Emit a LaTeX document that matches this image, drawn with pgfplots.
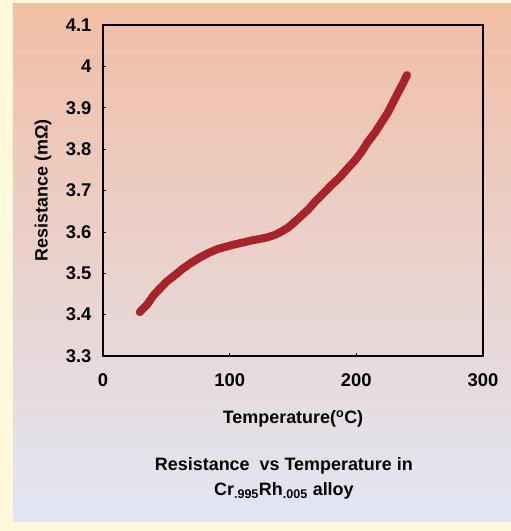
\documentclass[border=0pt]{standalone}
\usepackage{fontspec}
\setmainfont{Liberation Sans}
\usepackage{pgfplots}
\pgfplotsset{compat=1.18}

\definecolor{cream}{RGB}{255,248,220}
\definecolor{phototop}{RGB}{242,190,165}
\definecolor{photomid}{RGB}{238,200,204}
\definecolor{photobot}{RGB}{226,230,244}
\definecolor{curvered}{RGB}{168,36,42}

\newcommand\lab{\fontsize{18}{25}\selectfont\bfseries}
\newcommand\tlab{\fontsize{18.5}{20}\selectfont\bfseries}

\begin{document}
\begin{tikzpicture}
% photo background
\path[use as bounding box, fill=cream] (0,0) rectangle (511bp,531bp);
\shade[top color=phototop, middle color=photomid, bottom color=photobot]
  (13bp,9bp) rectangle (511bp,527bp);

\begin{axis}[
    at={(103bp,175bp)}, anchor=south west,
    scale only axis, width=380bp, height=331bp,
    xmin=0, xmax=300, ymin=3.3, ymax=4.1,
    xtick={0,100,200,300},
    ytick={3.3,3.4,3.5,3.6,3.7,3.8,3.9,4.0,4.1},
    xtick pos=bottom, ytick pos=left,
    tick align=inside,
    major tick length=3bp,
    tick style={black, line width=0.6bp},
    axis line style={black, line width=2.4bp},
    /pgf/number format/assume math mode=true,
    ticklabel style={font=\tlab},
    yticklabel style={xshift=-8bp},
    xticklabel style={yshift=-14bp},
    xlabel={Temperature(\textsuperscript{o}C)},
    ylabel={Resistance (mΩ)},
    xlabel style={font=\lab, at={(axis description cs:0.5,-0.19)}, anchor=center},
    ylabel style={font=\lab, at={(axis description cs:-0.158,0.5)}, anchor=center},
    title={Resistance\ \ vs Temperature in\\Cr\textsubscript{.995}Rh\textsubscript{.005} alloy},
    title style={font=\lab, align=center, at={(axis description cs:0.476,-0.388)}, anchor=center},
]
\addplot[color=curvered, line width=8bp, line cap=round, line join=round] coordinates {
(29,3.406) (35,3.425) (40,3.447) (45,3.463) (50,3.479) (57,3.496)
(63,3.511) (70,3.526) (77,3.539) (84,3.550) (90,3.558) (97,3.564)
(103,3.569) (110,3.574) (117,3.579) (124,3.583) (130,3.587) (136,3.593)
(141,3.601) (146,3.610) (151,3.623) (156,3.637) (162,3.654) (168,3.675)
(174,3.693) (180,3.712) (187,3.732) (193,3.753) (199,3.773) (204,3.793)
(209,3.817) (215,3.841) (220,3.865) (225,3.889) (229,3.913) (233,3.937)
(237,3.960) (240,3.979)
};
\end{axis}
\end{tikzpicture}
\end{document}
